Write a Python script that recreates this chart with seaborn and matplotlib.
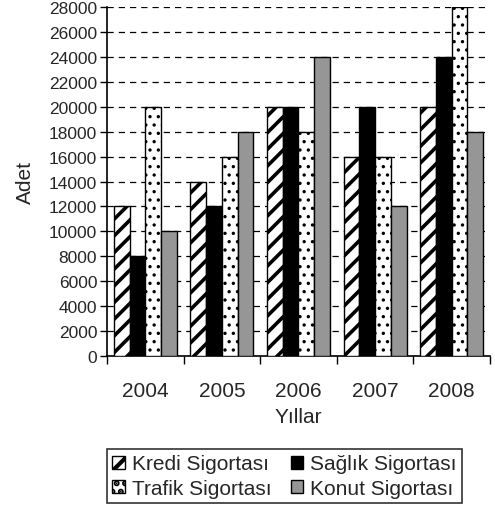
import pandas as pd
import numpy as np
import matplotlib.pyplot as plt
import seaborn as sns
from matplotlib.ticker import FixedLocator, NullFormatter

sns.set_theme(style="white")
plt.rcParams['font.family'] = ['Liberation Sans', 'DejaVu Sans']
plt.rcParams['hatch.linewidth'] = 3.0

# Data
years = ['2004', '2005', '2006', '2007', '2008']
series = ['Kredi Sigortası', 'Sağlık Sigortası', 'Trafik Sigortası', 'Konut Sigortası']
kredi = [12000, 14000, 20000, 16000, 20000]
saglik = [8000, 12000, 20000, 20000, 24000]
trafik = [20000, 16000, 18000, 16000, 28000]
konut = [10000, 18000, 24000, 12000, 18000]

df = pd.DataFrame({
    'Yil': years * 4,
    'Tur': [s for s in series for _ in years],
    'Adet': kredi + saglik + trafik + konut,
})

fig = plt.figure(figsize=(4.95, 5.06), dpi=100)
ax = fig.add_axes([0.216, 0.2945, 0.774, 0.6895])

sns.barplot(data=df, x='Yil', y='Adet', hue='Tur', hue_order=series,
            order=years, width=0.82, gap=0, legend=False, ax=ax,
            err_kws={'linewidth': 0})

styles = {
    'Kredi Sigortası': dict(facecolor='white', hatch='//', hlw=2.6),
    'Sağlık Sigortası': dict(facecolor='black', hatch=None, hlw=1.0),
    'Trafik Sigortası': dict(facecolor='white', hatch='..', hlw=1.2),
    'Konut Sigortası': dict(facecolor='#969696', hatch=None, hlw=1.0),
}
for cont, name in zip(ax.containers, series):
    for bar in cont:
        bar.set_facecolor(styles[name]['facecolor'])
        bar.set_hatch(styles[name]['hatch'])
        if hasattr(bar, 'set_hatch_linewidth'):
            bar.set_hatch_linewidth(styles[name]['hlw'])
        bar.set_edgecolor('black')
        bar.set_linewidth(1.0)
        bar.set_zorder(3)

ax.set_ylim(0, 28000)
ax.set_xlim(-0.5, 4.5)
ax.set_yticks(np.arange(0, 28001, 2000))
ax.yaxis.grid(True, color='black', linestyle=(0, (5, 4)), linewidth=0.9)
ax.set_axisbelow(True)

# category ticks at boundaries, labels in the middle
ax.xaxis.set_major_locator(FixedLocator(np.arange(-0.5, 5, 1)))
ax.xaxis.set_major_formatter(NullFormatter())
ax.xaxis.set_minor_locator(FixedLocator(np.arange(0, 5)))
ax.set_xticklabels(years, minor=True)
ax.tick_params(axis='x', which='major', length=6, width=1, color='black', direction='out', bottom=True)
ax.tick_params(axis='x', which='minor', length=0, labelsize=15, pad=18)
ax.tick_params(axis='y', length=5, width=1, color='black', direction='out', left=True, labelsize=12.5, pad=2)

for side in ['top', 'right']:
    ax.spines[side].set_visible(False)
for side in ['left', 'bottom']:
    ax.spines[side].set_color('black')
    ax.spines[side].set_linewidth(1.2)

ax.set_xlabel('Yıllar', fontsize=15, labelpad=5)
ax.set_ylabel('Adet', fontsize=15, labelpad=10)

handles = [ax.containers[i].patches[0] for i in [0, 2, 1, 3]]
labels = [series[i] for i in [0, 2, 1, 3]]
leg = fig.legend(handles, labels, ncol=2, loc='lower center', bbox_to_anchor=(0.575, 0.0),
                 frameon=True, fancybox=False, edgecolor='black', fontsize=15,
                 handlelength=0.6, handleheight=0.6, handletextpad=0.35,
                 columnspacing=0.9, borderpad=0.25, labelspacing=0.25,
                 borderaxespad=0.1)
leg.get_frame().set_linewidth(1.2)

fig.savefig('out.png', dpi=100)
